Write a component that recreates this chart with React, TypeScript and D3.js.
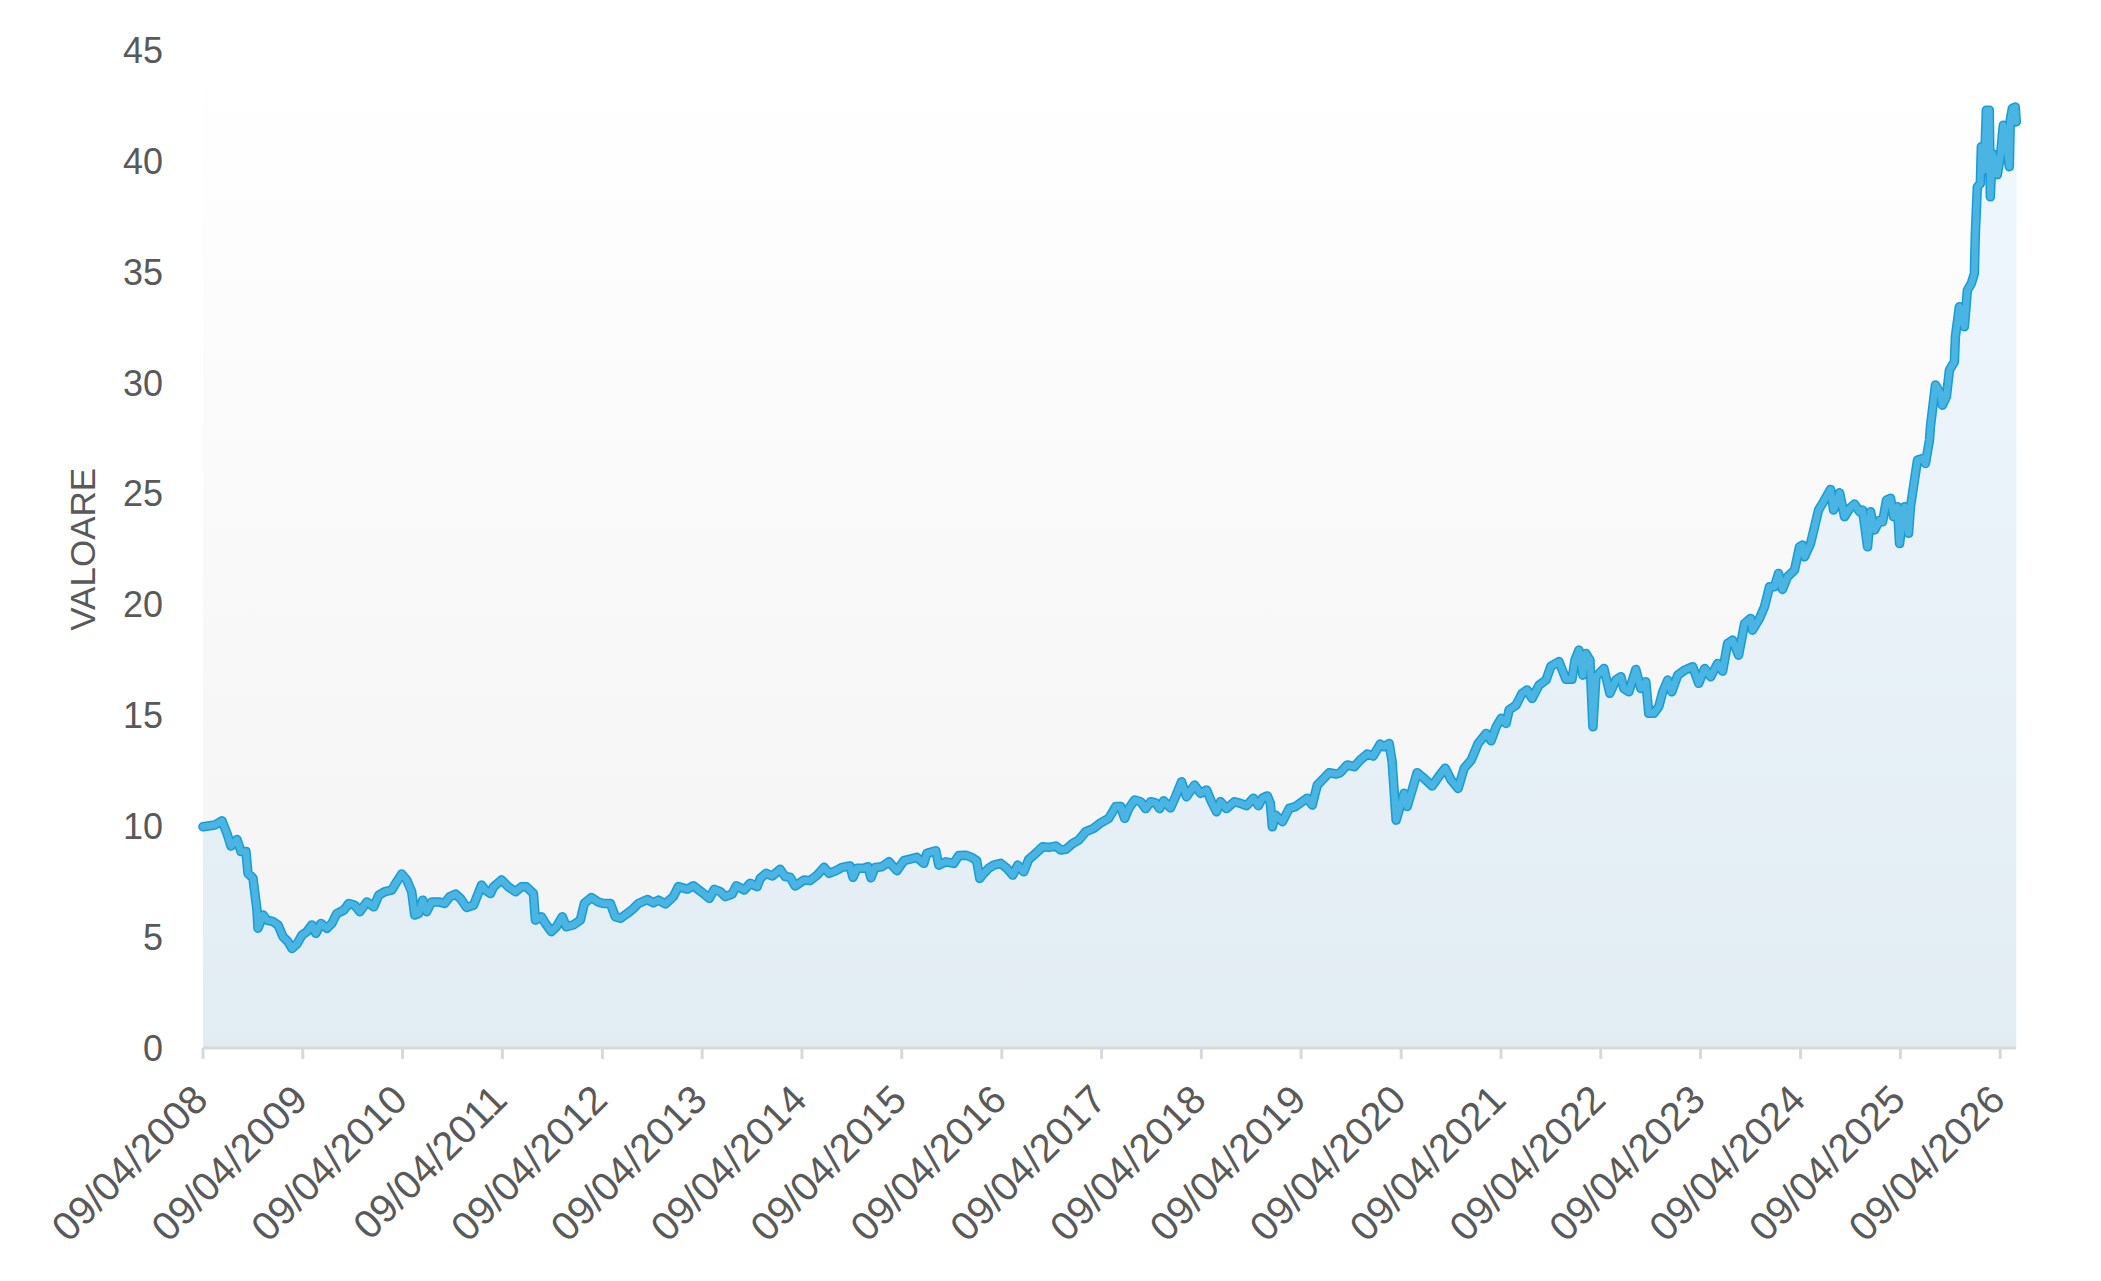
import React from "react";
import * as d3 from "d3";

// Decimal-year positions of the points
const DATES: number[] = [
  2008.27, 2008.39, 2008.46, 2008.51, 2008.55, 2008.61, 2008.65, 2008.70, 2008.72, 2008.77,
  2008.81, 2008.82, 2008.87, 2008.91, 2008.97, 2009.02, 2009.07, 2009.12, 2009.16, 2009.21,
  2009.26, 2009.31, 2009.36, 2009.40, 2009.45, 2009.51, 2009.56, 2009.61, 2009.68, 2009.73,
  2009.79, 2009.84, 2009.91, 2009.98, 2010.03, 2010.09, 2010.16, 2010.21, 2010.26, 2010.31,
  2010.36, 2010.39, 2010.43, 2010.47, 2010.51, 2010.56, 2010.63, 2010.69, 2010.74, 2010.80,
  2010.85, 2010.91, 2010.98, 2011.06, 2011.10, 2011.15, 2011.18, 2011.26, 2011.33, 2011.40,
  2011.46, 2011.51, 2011.58, 2011.60, 2011.66, 2011.70, 2011.76, 2011.81, 2011.87, 2011.91,
  2011.98, 2012.05, 2012.09, 2012.16, 2012.23, 2012.28, 2012.35, 2012.40, 2012.45, 2012.52,
  2012.58, 2012.63, 2012.72, 2012.78, 2012.83, 2012.90, 2012.98, 2013.03, 2013.12, 2013.18,
  2013.27, 2013.34, 2013.39, 2013.45, 2013.50, 2013.57, 2013.61, 2013.69, 2013.75, 2013.82,
  2013.85, 2013.91, 2013.97, 2014.05, 2014.10, 2014.15, 2014.20, 2014.29, 2014.35, 2014.42,
  2014.49, 2014.54, 2014.60, 2014.67, 2014.75, 2014.78, 2014.82, 2014.89, 2014.93, 2014.96,
  2015.00, 2015.07, 2015.14, 2015.22, 2015.29, 2015.36, 2015.42, 2015.49, 2015.52, 2015.61,
  2015.64, 2015.71, 2015.79, 2015.84, 2015.91, 2015.97, 2016.02, 2016.05, 2016.09, 2016.14,
  2016.19, 2016.26, 2016.32, 2016.38, 2016.43, 2016.49, 2016.54, 2016.61, 2016.68, 2016.74,
  2016.81, 2016.86, 2016.91, 2016.98, 2017.04, 2017.11, 2017.19, 2017.26, 2017.34, 2017.41,
  2017.46, 2017.50, 2017.54, 2017.60, 2017.66, 2017.71, 2017.76, 2017.81, 2017.85, 2017.89,
  2017.96, 2018.01, 2018.07, 2018.12, 2018.20, 2018.26, 2018.32, 2018.37, 2018.42, 2018.46,
  2018.52, 2018.60, 2018.66, 2018.72, 2018.79, 2018.84, 2018.88, 2018.93, 2018.96, 2018.98,
  2019.01, 2019.08, 2019.15, 2019.21, 2019.28, 2019.33, 2019.38, 2019.43, 2019.48, 2019.55,
  2019.62, 2019.66, 2019.73, 2019.80, 2019.86, 2019.93, 2019.99, 2020.06, 2020.10, 2020.15,
  2020.18, 2020.22, 2020.25, 2020.30, 2020.33, 2020.38, 2020.43, 2020.50, 2020.58, 2020.65,
  2020.71, 2020.77, 2020.84, 2020.90, 2020.97, 2021.04, 2021.12, 2021.17, 2021.22, 2021.27,
  2021.32, 2021.35, 2021.42, 2021.48, 2021.53, 2021.58, 2021.65, 2021.72, 2021.77, 2021.85,
  2021.92, 2021.98, 2022.01, 2022.05, 2022.09, 2022.12, 2022.16, 2022.19, 2022.22, 2022.30,
  2022.36, 2022.42, 2022.47, 2022.50, 2022.55, 2022.62, 2022.67, 2022.72, 2022.75, 2022.80,
  2022.85, 2022.89, 2022.94, 2022.98, 2023.04, 2023.11, 2023.19, 2023.25, 2023.31, 2023.37,
  2023.44, 2023.49, 2023.54, 2023.59, 2023.65, 2023.71, 2023.77, 2023.79, 2023.86, 2023.91,
  2023.96, 2024.01, 2024.05, 2024.09, 2024.14, 2024.21, 2024.26, 2024.29, 2024.31, 2024.37,
  2024.41, 2024.45, 2024.49, 2024.57, 2024.60, 2024.63, 2024.66, 2024.71, 2024.76, 2024.81,
  2024.86, 2024.89, 2024.94, 2024.97, 2025.01, 2025.06, 2025.09, 2025.13, 2025.17, 2025.20,
  2025.24, 2025.26, 2025.31, 2025.35, 2025.37, 2025.41, 2025.44, 2025.49, 2025.52, 2025.56,
  2025.57, 2025.62, 2025.67, 2025.69, 2025.73, 2025.76, 2025.81, 2025.82, 2025.86, 2025.91,
  2025.94, 2025.98, 2026.01, 2026.02, 2026.04, 2026.07, 2026.08, 2026.11, 2026.13, 2026.16,
  2026.17, 2026.19, 2026.21, 2026.24, 2026.27, 2026.30, 2026.32, 2026.36, 2026.37, 2026.39,
  2026.42, 2026.43,
];

const VALUES: number[] = [
  9.98, 10.06, 10.25, 9.68, 9.11, 9.41, 8.86, 8.86, 7.88, 7.66,
  6.22, 5.40, 6.00, 5.77, 5.70, 5.55, 5.02, 4.80, 4.49, 4.69,
  5.09, 5.25, 5.55, 5.17, 5.62, 5.40, 5.62, 6.07, 6.22, 6.52,
  6.44, 6.15, 6.59, 6.37, 6.90, 7.05, 7.12, 7.50, 7.85, 7.58,
  7.05, 6.00, 6.07, 6.67, 6.15, 6.59, 6.59, 6.52, 6.82, 6.94,
  6.74, 6.34, 6.44, 7.35, 7.12, 6.97, 7.27, 7.58, 7.27, 7.05,
  7.27, 7.27, 6.97, 5.77, 5.92, 5.62, 5.25, 5.47, 5.92, 5.47,
  5.55, 5.77, 6.52, 6.79, 6.59, 6.52, 6.52, 5.92, 5.85, 6.07,
  6.29, 6.52, 6.70, 6.55, 6.67, 6.50, 6.83, 7.28, 7.17, 7.32,
  7.01, 6.75, 7.16, 7.05, 6.83, 6.95, 7.32, 7.13, 7.43, 7.28,
  7.65, 7.88, 7.76, 8.06, 7.73, 7.70, 7.31, 7.58, 7.55, 7.80,
  8.15, 7.88, 7.98, 8.15, 8.21, 7.70, 8.11, 8.11, 8.18, 7.68,
  8.14, 8.18, 8.40, 8.00, 8.45, 8.53, 8.60, 8.33, 8.78, 8.90,
  8.25, 8.40, 8.33, 8.68, 8.70, 8.60, 8.45, 7.65, 7.88, 8.11,
  8.25, 8.33, 8.11, 7.80, 8.25, 7.95, 8.51, 8.78, 9.08, 9.05,
  9.11, 8.93, 8.96, 9.23, 9.38, 9.76, 9.91, 10.16, 10.36, 10.89,
  10.89, 10.36, 10.80, 11.19, 11.11, 10.80, 11.11, 11.06, 10.80, 11.15,
  10.83, 11.34, 12.01, 11.34, 11.86, 11.49, 11.64, 11.11, 10.66, 11.11,
  10.80, 11.11, 11.04, 10.93, 11.27, 10.93, 11.27, 11.37, 11.04, 9.98,
  10.51, 10.21, 10.81, 10.89, 11.11, 11.27, 10.96, 11.86, 12.09, 12.42,
  12.36, 12.42, 12.77, 12.69, 12.99, 13.26, 13.17, 13.71, 13.59, 13.74,
  12.92, 10.28, 10.74, 11.49, 10.89, 11.64, 12.42, 12.16, 11.82, 12.27,
  12.62, 12.09, 11.71, 12.62, 12.99, 13.74, 14.19, 13.86, 14.49, 14.87,
  14.64, 15.25, 15.47, 16.00, 16.15, 15.77, 16.37, 16.60, 17.23, 17.43,
  16.63, 16.63, 17.50, 17.95, 16.82, 17.80, 17.50, 14.49, 16.75, 17.12,
  16.00, 16.60, 16.75, 16.22, 16.07, 17.08, 16.22, 16.52, 15.10, 15.10,
  15.40, 16.07, 16.60, 16.07, 16.82, 17.05, 17.20, 16.45, 17.12, 16.75,
  17.35, 17.00, 18.25, 18.40, 17.72, 19.15, 19.38, 18.85, 19.38, 19.91,
  20.81, 20.81, 21.41, 20.69, 21.26, 21.56, 22.61, 22.69, 22.16, 22.76,
  23.51, 24.27, 24.57, 25.20, 24.27, 24.57, 25.05, 23.97, 24.34, 24.54,
  24.19, 24.27, 22.61, 24.19, 23.37, 23.81, 23.74, 24.72, 24.80, 23.97,
  24.42, 22.76, 24.42, 23.22, 24.42, 25.62, 26.52, 26.59, 26.37, 27.42,
  28.03, 29.91, 29.53, 29.00, 29.38, 30.58, 30.96, 32.09, 33.44, 32.54,
  34.19, 34.49, 34.94, 36.75, 38.85, 39.00, 40.66, 39.60, 42.31, 42.31,
  38.40, 40.35, 40.10, 39.40, 40.20, 41.63, 41.10, 39.76, 41.86, 42.38,
  42.45, 41.78,
];

const TICK_YEARS: number[] = [
  2008, 2009, 2010, 2011, 2012, 2013, 2014, 2015, 2016, 2017,
  2018, 2019, 2020, 2021, 2022, 2023, 2024, 2025, 2026,
];
const Y_TICKS: number[] = [0, 5, 10, 15, 20, 25, 30, 35, 40, 45];
const Y_TITLE = "VALOARE";

const W = 2101;
const H = 1281;
const LEFT = 203;
const RIGHT = 2016;
const TOP = 50.5;
const BOTTOM = 1048;
const FONT = "'Liberation Sans', Arial, sans-serif";
const TEXT_COLOR = "#595959";

function decToDate(d: number): Date {
  const y = Math.floor(d);
  const s = Date.UTC(y, 0, 1);
  const e = Date.UTC(y + 1, 0, 1);
  return new Date(s + (d - y) * (e - s));
}

export default function App() {
  const data = DATES.map((d, i) => ({ date: decToDate(d), value: VALUES[i] }));

  const x = d3
    .scaleUtc()
    .domain([new Date(Date.UTC(2008, 3, 9)), new Date(Date.UTC(2026, 5, 6))])
    .range([LEFT, RIGHT]);
  const y = d3.scaleLinear().domain([0, 45]).range([BOTTOM, TOP]);

  const line = d3
    .line<{ date: Date; value: number }>()
    .x((d) => x(d.date))
    .y((d) => y(d.value));
  const area = d3
    .area<{ date: Date; value: number }>()
    .x((d) => x(d.date))
    .y0(y(0))
    .y1((d) => y(d.value));

  const fmt = d3.utcFormat("%d/%m/%Y");
  const ticks = TICK_YEARS.map((yr) => new Date(Date.UTC(yr, 3, 9)));

  return (
    <svg
      width={W}
      height={H}
      style={{ position: "absolute", left: 0, top: 0, display: "block", background: "#fff" }}
    >
      <defs>
        <linearGradient id="bgGrad" x1="0" y1="0" x2="0" y2="1">
          <stop offset="0%" stopColor="#ffffff" />
          <stop offset="100%" stopColor="#f3f3f3" />
        </linearGradient>
        <linearGradient id="areaGrad" gradientUnits="userSpaceOnUse" x1="0" y1={TOP} x2="0" y2={BOTTOM}>
          <stop offset="0%" stopColor="#eff8fe" />
          <stop offset="100%" stopColor="#e2ecf3" />
        </linearGradient>
      </defs>

      <rect x={LEFT} y={TOP} width={RIGHT - LEFT} height={BOTTOM - TOP} fill="url(#bgGrad)" />
      <path d={area(data) || ""} fill="url(#areaGrad)" />
      <path
        d={line(data) || ""}
        fill="none"
        stroke="#189bd6"
        strokeWidth={9.5}
        strokeLinejoin="round"
        strokeLinecap="round"
      />
      <path
        d={line(data) || ""}
        fill="none"
        stroke="#4ab5e2"
        strokeWidth={6.5}
        strokeLinejoin="round"
        strokeLinecap="round"
      />

      {/* x axis */}
      <line x1={LEFT} x2={RIGHT} y1={BOTTOM} y2={BOTTOM} stroke="#d6d9dc" strokeWidth={3} />
      {ticks.map((t, i) => (
        <g key={i}>
          <line x1={x(t)} x2={x(t)} y1={BOTTOM} y2={BOTTOM + 11} stroke="#d6d9dc" strokeWidth={3} />
          <text
            transform={`translate(${x(t) + 7},${BOTTOM + 54}) rotate(-45)`}
            textAnchor="end"
            fontFamily={FONT}
            fontSize={40}
            fill={TEXT_COLOR}
          >
            {fmt(t)}
          </text>
        </g>
      ))}

      {/* y axis labels */}
      {Y_TICKS.map((v) => (
        <text
          key={v}
          x={163}
          y={y(v)}
          dy="0.35em"
          textAnchor="end"
          fontFamily={FONT}
          fontSize={36}
          fill={TEXT_COLOR}
        >
          {v}
        </text>
      ))}

      <text
        transform={`translate(95,${(TOP + BOTTOM) / 2}) rotate(-90)`}
        textAnchor="middle"
        fontFamily={FONT}
        fontSize={35}
        fill={TEXT_COLOR}
      >
        {Y_TITLE}
      </text>
    </svg>
  );
}
